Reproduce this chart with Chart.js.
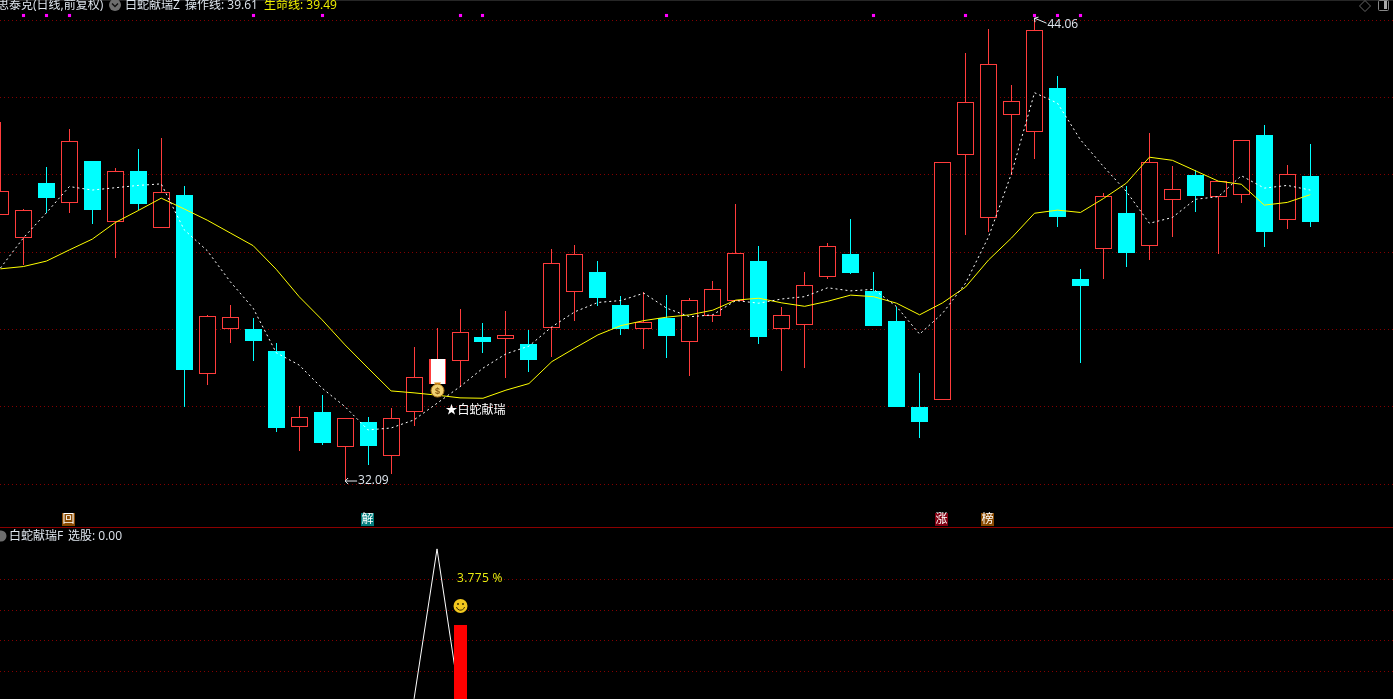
<!DOCTYPE html>
<html lang="zh">
<head>
<meta charset="utf-8">
<title>白蛇献瑞</title>
<script src="https://cdn.jsdelivr.net/npm/chart.js@4/dist/chart.umd.min.js"></script>
<style>
html,body{margin:0;padding:0;background:#000;width:1393px;height:699px;overflow:hidden}
canvas{position:absolute;left:0;display:block}
#main{top:0}
#sub{top:528px}
.sep{position:absolute;left:0;width:1393px;height:1px;top:527px;background:#8b0000}
.top{position:absolute;left:0;width:1393px;height:1px;top:0;background:#262626}
.t{position:absolute;white-space:pre;font:12px/12px "Open Sans","Noto Sans CJK SC",sans-serif;color:#dfe6ee}
.y{color:#f2f200}
svg.i{position:absolute;overflow:visible}
</style>
</head>
<body>
<canvas id="main" width="1393" height="527"></canvas>
<canvas id="sub" width="1393" height="171"></canvas>
<div class="top"></div>
<div class="sep"></div>
<div class="t" style="left:-3px;top:-1px">思泰克(日线,前复权)</div>
<svg class="i" width="12" height="12" style="left:109px;top:-1px"><circle cx="6" cy="6" r="6" fill="#6e6e6e"/><path d="M3 4.5 L6 7.5 L9 4.5" stroke="#111" stroke-width="1.4" fill="none"/></svg>
<div class="t" style="left:125px;top:-1px">白蛇献瑞Z</div>
<div class="t" style="left:185px;top:-1px">操作线: 39.61</div>
<div class="t y" style="left:264px;top:-1px">生命线: 39.49</div>
<svg class="i" width="12" height="12" style="left:1359px;top:0"><path d="M6 0.5 L11.5 6 L6 11.5 L0.5 6 Z" stroke="#666" fill="none"/></svg>
<svg class="i" width="12" height="12" style="left:1378px;top:-1px"><rect x="0.5" y="1.5" width="10" height="10" rx="1" stroke="#888" fill="none"/><rect x="6" y="2" width="3" height="8" fill="#aaa"/></svg>
<svg class="i" width="10" height="12" style="left:-5px;top:530px"><circle cx="6" cy="6" r="5.5" fill="#6e6e6e"/></svg>
<div class="t" style="left:9px;top:530px">白蛇献瑞F</div>
<div class="t" style="left:68px;top:530px">选股: 0.00</div>
<script>
// ---- data ----
const opens = [38.97,38.38,39.79,39.28,40.36,38.79,40.10,38.64,39.48,34.86,
  36.00,36.01,35.44,33.48,33.86,32.97,33.61,32.73,33.87,34.60,
  35.19,35.81,35.76,35.62,36.05,36.98,37.49,36.63,36.00,36.30,
  35.68,36.36,36.75,37.77,36.00,36.12,37.37,37.95,37.00,36.22,
  33.99,34.18,40.53,38.89,41.56,41.10,42.25,37.30,38.09,39.02,
  38.17,39.36,40.00,39.44,39.49,41.04,38.84,39.97];
const closes = [39.59,39.09,39.40,40.87,39.09,40.10,39.25,39.55,34.95,36.34,
  36.32,35.70,33.45,33.73,33.06,33.70,32.98,33.70,34.76,35.24,
  35.93,35.68,35.85,35.21,37.71,37.95,36.82,36.01,36.19,35.83,
  36.76,37.04,37.97,35.81,36.37,37.14,38.15,37.46,36.09,33.99,
  33.61,40.33,41.88,42.87,41.91,43.75,38.91,37.13,39.45,37.98,
  40.33,39.63,39.46,39.84,40.90,38.52,40.02,38.78];
const highs = [41.37,39.12,40.21,41.19,40.36,40.18,40.67,40.96,39.72,36.38,
  36.63,36.30,35.65,34.02,34.30,33.70,33.73,33.97,35.54,36.03,
  36.52,36.16,36.48,35.99,38.08,38.19,37.77,36.87,36.96,36.89,
  36.82,37.26,39.25,38.16,36.58,37.49,38.24,38.86,37.49,36.58,
  34.87,40.33,43.16,43.78,42.33,44.06,42.56,37.56,39.53,39.72,
  41.08,40.23,40.13,39.84,40.90,41.29,40.26,40.80];
const lows = [38.97,37.67,39.02,39.02,38.73,37.86,39.09,38.64,34.00,34.56,
  35.65,35.18,33.35,32.85,33.01,32.09,32.49,32.26,33.50,34.28,
  34.52,35.39,34.75,34.90,35.30,36.22,36.61,35.86,35.50,35.26,
  34.80,36.19,36.75,35.62,34.93,35.00,37.31,37.44,36.09,33.99,
  33.19,34.18,38.45,38.53,40.00,40.42,38.65,35.13,37.31,37.62,
  37.80,38.39,39.04,37.95,39.28,38.14,38.60,38.65];
const operateLine = [37.59,38.37,39.02,39.70,39.61,39.67,39.73,39.77,38.58,38.04,
  37.24,36.55,35.40,35.08,34.48,34.00,33.40,33.45,33.66,34.09,
  34.52,35.00,35.37,35.57,36.07,36.46,36.70,36.75,36.94,36.55,
  36.33,36.38,36.75,36.68,36.79,36.85,37.08,37.00,37.04,36.59,
  35.88,36.42,37.20,38.40,40.04,42.13,41.86,40.91,40.22,39.57,
  38.75,38.90,39.37,39.44,39.98,39.66,39.73,39.61];
const lifeLine = [37.57,37.63,37.77,38.06,38.34,38.77,39.08,39.40,39.12,38.83,
  38.50,38.17,37.56,36.85,36.25,35.60,35.00,34.41,34.36,34.30,
  34.23,34.22,34.43,34.60,35.17,35.52,35.86,36.10,36.23,36.32,
  36.38,36.50,36.76,36.81,36.69,36.60,36.73,36.89,36.85,36.68,
  36.38,36.69,37.10,37.80,38.37,39.01,39.09,39.03,39.39,39.79,
  40.46,40.38,40.11,39.84,39.76,39.22,39.29,39.49];
const priceGrid = [32,34,36,38,40,42,44];
const flagDays = [1,2,3,11,14,20,21,29,38,42,45,46,47];
const flagLevel = 44.12;
const signalDay = 19;
const badges = [["回",3,"#8a4a00"],["解",16,"#007c7c"],["涨",41,"#820012"],["榜",43,"#8a4a00"]];
const lowLabel = [15, 32.09, "32.09"];
const highLabel = [45, 44.06, "44.06"];
const signalText = "★白蛇献瑞";
const subDays = [18,19,20];
const subLine = [1.39,6.23,1.29];
const subBarDay = 20;
const subBarValue = 3.775;
const subBarLabel = "3.775 %";
const subGrid = [2.281,3.281,4.249,5.249];

// ---- rendering ----
const FONT = '12px "Open Sans","Noto Sans CJK SC",sans-serif';
const RED = '#ff3c3c', CYAN = '#00ffff';
const days = opens.map((_, i) => i);
const isUp = i => closes[i] >= opens[i];
const xRange = {min: -0.0174, max: 60.60};
const xy = arr => arr.map((v, i) => ({x: i, y: v}));

// keep bars crisp on the pixel grid, as the reference is
const snap = {
  id: 'snap',
  beforeDatasetsDraw(chart) {
    chart.data.datasets.forEach((ds, k) => {
      const meta = chart.getDatasetMeta(k);
      if (ds.type === 'bar') meta.data.forEach(el => {
        el.x = Math.floor(el.x) + 0.5;
        el.y = Math.round(el.y);
        el.base = Math.round(el.base);
      });
      if (ds.type === 'scatter') meta.data.forEach(el => {
        el.x = Math.floor(el.x) + 0.5;
        el.y = Math.floor(el.y) + 0.5;
      });
    });
  }
};

function text(ctx, s, x, y, color, align) {
  ctx.font = FONT;
  ctx.fillStyle = color;
  ctx.textAlign = align || 'left';
  ctx.textBaseline = 'middle';
  ctx.fillText(s, x, y);
}

const mainMarks = {
  id: 'mainMarks',
  afterDatasetsDraw(chart) {
    const {ctx, scales: {x, y}} = chart;
    ctx.save();
    // money bag under the signal candle
    const bx = Math.floor(x.getPixelForValue(signalDay)) + 0.5;
    const by = y.getPixelForValue(opens[signalDay]) + 5;
    ctx.fillStyle = '#e08a10';
    ctx.beginPath();
    ctx.moveTo(bx - 3.5, by - 6); ctx.lineTo(bx + 3.5, by - 6); ctx.lineTo(bx + 1.5, by - 3); ctx.lineTo(bx - 1.5, by - 3);
    ctx.closePath(); ctx.fill();
    ctx.fillStyle = '#f0d070';
    ctx.strokeStyle = '#a8741a';
    ctx.beginPath(); ctx.arc(bx, by + 2, 6.5, 0, Math.PI * 2); ctx.fill(); ctx.stroke();
    ctx.font = 'bold 9px "Liberation Sans",sans-serif';
    ctx.fillStyle = '#8a5a10';
    ctx.textAlign = 'center'; ctx.textBaseline = 'middle';
    ctx.fillText('$', bx, by + 2.5);
    text(ctx, signalText, bx + 8, by + 22, '#ffffff');

    // low price label
    const lx = x.getPixelForValue(lowLabel[0]), ly = y.getPixelForValue(lowLabel[1]);
    ctx.strokeStyle = '#e6ecf2'; ctx.lineWidth = 1;
    ctx.beginPath();
    ctx.moveTo(lx + 12, ly + .5); ctx.lineTo(lx, ly + .5);
    ctx.moveTo(lx + 3, ly - 2.5); ctx.lineTo(lx, ly + .5); ctx.lineTo(lx + 3, ly + 3.5);
    ctx.stroke();
    text(ctx, lowLabel[2], lx + 13, ly + .5, '#dfe6ee');

    // high price label
    const hx = x.getPixelForValue(highLabel[0]), hy = y.getPixelForValue(highLabel[1]);
    ctx.beginPath();
    ctx.moveTo(hx + 12, hy + 5); ctx.lineTo(hx, hy);
    ctx.moveTo(hx + .5, hy + 4); ctx.lineTo(hx, hy); ctx.lineTo(hx + 4, hy - 1);
    ctx.stroke();
    text(ctx, highLabel[2], hx + 13, hy + 6, '#dfe6ee');

    // badges on the bottom edge
    badges.forEach(([ch, d, col]) => {
      const cx = Math.floor(x.getPixelForValue(d));
      ctx.fillStyle = col;
      ctx.fillRect(cx - 7, 513, 13, 13);
      text(ctx, ch, cx - 0.5, 519.5, '#ffffff', 'center');
    });
    ctx.restore();
  }
};

const subMarks = {
  id: 'subMarks',
  afterDatasetsDraw(chart) {
    const {ctx, scales: {x, y}} = chart;
    ctx.save();
    const cx = x.getPixelForValue(subBarDay) + 0.5;
    const top = y.getPixelForValue(subBarValue);
    ctx.letterSpacing = '0.3px';
    text(ctx, subBarLabel, cx - 3.5, top - 46, '#ecec10');
    ctx.letterSpacing = '0px';
    const sy = top - 19;
    ctx.fillStyle = '#f2c81e';
    ctx.beginPath(); ctx.arc(cx, sy, 7, 0, Math.PI * 2); ctx.fill();
    ctx.fillStyle = '#3a2c00';
    ctx.beginPath(); ctx.arc(cx - 2.5, sy - 2, 1, 0, Math.PI * 2); ctx.arc(cx + 2.5, sy - 2, 1, 0, Math.PI * 2); ctx.fill();
    ctx.strokeStyle = '#3a2c00'; ctx.lineWidth = 1;
    ctx.beginPath(); ctx.arc(cx, sy, 4.2, 0.25, Math.PI - 0.25); ctx.stroke();
    ctx.restore();
  }
};

const yAxis = (min, max, levels) => ({
  min, max,
  afterBuildTicks: s => { s.ticks = levels.map(v => ({value: v})); },
  ticks: {display: false},
  border: {display: false, dash: [1, 3]},
  grid: {drawTicks: false, color: '#840000', lineWidth: 1},
});

const baseOpts = {
  responsive: false,
  animation: false,
  devicePixelRatio: 1,
  events: [],
  layout: {padding: 0, autoPadding: false},
  plugins: {legend: {display: false}, tooltip: {enabled: false}},
};

new Chart(document.getElementById('main'), {
  data: {
    datasets: [
      {type: 'scatter', order: 0, data: flagDays.map(d => ({x: d, y: flagLevel})),
       backgroundColor: '#ff00ff', borderWidth: 0, pointStyle: 'rect', pointRadius: 2.2},
      {type: 'line', order: 1, data: xy(operateLine), borderColor: '#ffffff', borderWidth: 1,
       borderDash: [2, 3], pointRadius: 0, tension: 0},
      {type: 'line', order: 2, data: xy(lifeLine), borderColor: '#ffff00', borderWidth: 1,
       pointRadius: 0, tension: 0},
      {type: 'bar', order: 3, grouped: false, barThickness: 17, inflateAmount: 0, borderSkipped: false,
       data: days.map(i => ({x: i, y: [opens[i], closes[i]]})),
       backgroundColor: days.map(i => i === signalDay ? '#ffffff' : isUp(i) ? '#000000' : CYAN),
       borderColor: days.map(i => isUp(i) ? RED : CYAN),
       borderWidth: c => c.dataIndex === signalDay ? {left: 2, right: 1, top: 0, bottom: 0} : 1},
      {type: 'bar', order: 4, grouped: false, barThickness: 1, inflateAmount: 0, borderSkipped: false,
       data: days.map(i => ({x: i, y: [lows[i], highs[i]]})),
       backgroundColor: days.map(i => isUp(i) ? RED : CYAN), borderWidth: 0},
    ]
  },
  options: {
    ...baseOpts,
    scales: {
      x: {type: 'linear', display: false, offset: false, ...xRange},
      y: yAxis(30.887, 44.53, priceGrid),
    }
  },
  plugins: [snap, mainMarks]
});

new Chart(document.getElementById('sub'), {
  data: {
    datasets: [
      {type: 'bar', order: 0, grouped: false, barThickness: 13, inflateAmount: 0, borderWidth: 0,
       data: [{x: subBarDay, y: [0, subBarValue]}], backgroundColor: '#ff0000'},
      {type: 'line', order: 1, data: subDays.map((d, i) => ({x: d, y: subLine[i]})),
       borderColor: '#ffffff', borderWidth: 1, pointRadius: 0, tension: 0},
    ]
  },
  options: {
    ...baseOpts,
    scales: {
      x: {type: 'linear', display: false, offset: false, ...xRange},
      y: yAxis(1.387, 6.904, subGrid),
    }
  },
  plugins: [snap, subMarks]
});
</script>
</body>
</html>
